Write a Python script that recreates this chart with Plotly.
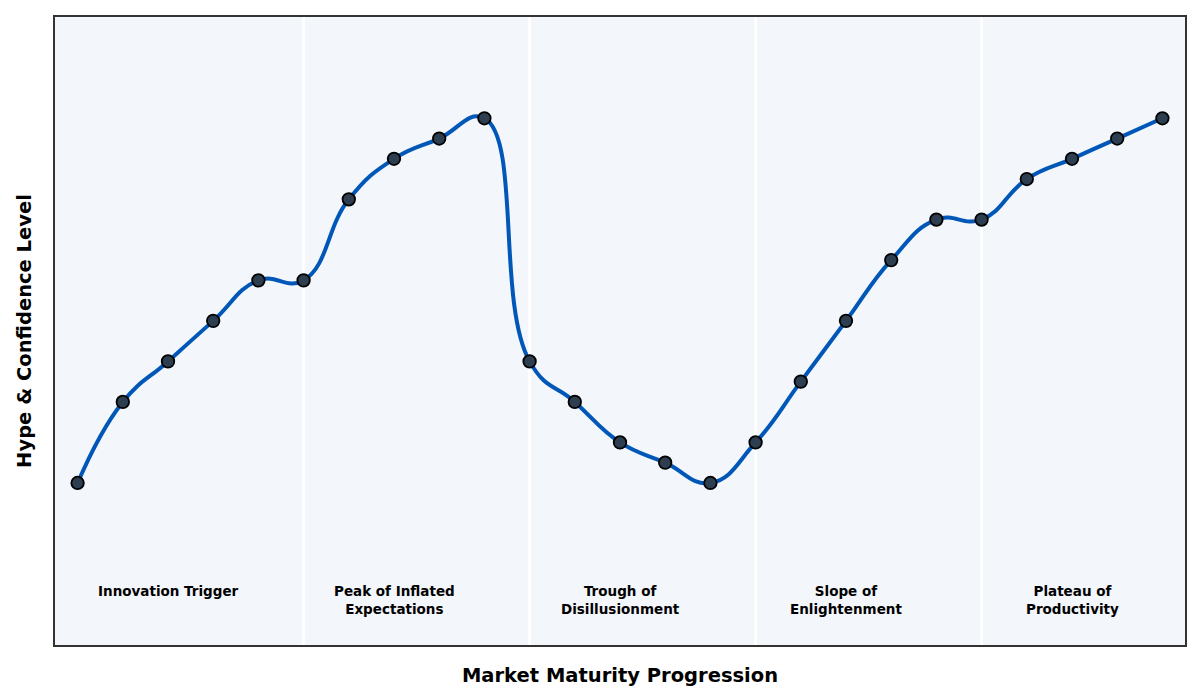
import plotly.graph_objects as go

# market stage index and hype level
stage = list(range(25))
hype = [20, 28, 32, 36, 40, 40, 48, 52, 54, 56, 32, 28, 24, 22, 20,
        24, 30, 36, 42, 46, 46, 50, 52, 54, 56]

phase_names = ["Innovation Trigger", "Peak of Inflated<br>Expectations",
               "Trough of<br>Disillusionment", "Slope of<br>Enlightenment",
               "Plateau of<br>Productivity"]
phase_centers = [2, 7, 12, 17, 22]
phase_bounds = [5, 10, 15, 20]

FONT = "DejaVu Sans"

fig = go.Figure()
fig.add_trace(go.Scatter(
    x=stage, y=hype, mode="lines+markers",
    line=dict(color="#0057b8", width=4, shape="spline", smoothing=1.3),
    marker=dict(size=12.5, color="#2c3e50", line=dict(color="black", width=1.8)),
    showlegend=False,
))

for b in phase_bounds:
    fig.add_vline(x=b, line=dict(color="white", width=3), layer="below")

for c, name in zip(phase_centers, phase_names):
    fig.add_annotation(x=c, y=10.3, text=f"<b>{name}</b>", showarrow=False,
                       yanchor="top", font=dict(family=FONT, size=13.5, color="black"))

fig.update_layout(
    width=1200, height=700,
    margin=dict(l=47, r=23, t=7, b=63),
    plot_bgcolor="#f3f6fa", paper_bgcolor="white",
    font=dict(family=FONT),
    xaxis=dict(range=[-0.5, 24.5], showticklabels=False, showgrid=False, zeroline=False,
               ticks="", showline=True, mirror=True, linecolor="#333333", linewidth=2,
               title=dict(text="<b>Market Maturity Progression</b>", standoff=22,
                          font=dict(family=FONT, size=19.5, color="black"))),
    yaxis=dict(range=[4, 66], showticklabels=False, showgrid=False, zeroline=False,
               ticks="", showline=True, mirror=True, linecolor="#333333", linewidth=2,
               title=dict(text="<b>Hype & Confidence Level</b>", standoff=16,
                          font=dict(family=FONT, size=19.5, color="black"))),
)

fig.write_html("out.html")
